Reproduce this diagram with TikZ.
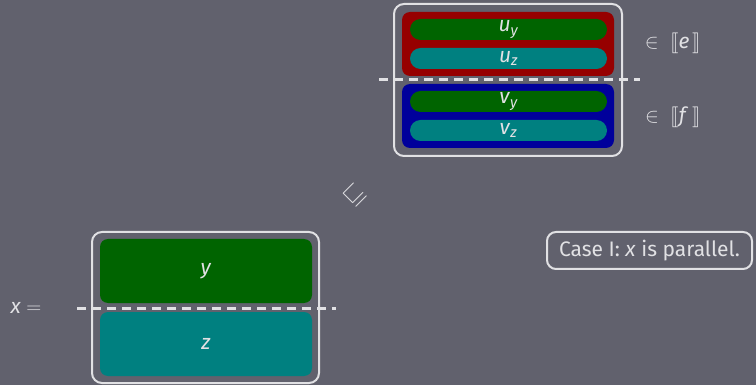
\documentclass[tikz,border=0pt]{standalone}
\usepackage{amsmath,amssymb,stmaryrd}
\usepackage{fontspec}
\setmainfont{Fira Sans}
\usetikzlibrary{backgrounds}
\definecolor{slide bg}{RGB}{97,97,109}
\definecolor{pale}{RGB}{225,225,228}
\definecolor{part green}{RGB}{0,100,0}
\definecolor{part teal}{RGB}{0,128,128}
\definecolor{part red}{RGB}{150,0,0}
\definecolor{part blue}{RGB}{0,0,155}
\tikzset{
  frame box/.style={
    draw=pale,
    line width=2pt,
    rounded corners=10pt,
    inner sep=0pt,
  },
  half box/.style={
    rounded corners=8pt,
    inner sep=0pt,
    minimum width=212pt,
    minimum height=64pt,
    text=pale,
  },
  pill/.style={
    rounded corners=10.5pt,
    inner sep=0pt,
    minimum width=197pt,
    minimum height=21pt,
    text=pale,
  },
  cut line/.style={
    draw=pale,
    line width=3pt,
    dash pattern=on 9pt off 6pt,
  },
  big text/.style={
    text=pale,
    font=\fontsize{21}{25}\selectfont,
  },
}

\begin{document}
\begin{tikzpicture}[x=1pt, y=-1pt, big text]
        \useasboundingbox[fill=slide bg] (0,0) rectangle (756,385);

        % the split value on the top right
        \node[frame box, minimum width=228pt, minimum height=152pt] (top) at (508,80) {};
        \node[half box, fill=part red]  (u) at (508, 44) {};
        \node[half box, fill=part blue] (v) at (508,116) {};
        \node[pill, fill=part green] (uy) at (508.5, 29.5) {\textit{u}$_{\textit{y}}$};
        \node[pill, fill=part teal]  (uz) at (508.5, 58.5) {\textit{u}$_{\textit{z}}$};
        \node[pill, fill=part green] (vy) at (508.5,101.5) {\textit{v}$_{\textit{y}}$};
        \node[pill, fill=part teal]  (vz) at (508.5,130.5) {\textit{v}$_{\textit{z}}$};
        \coordinate (top cut left)  at (379,80);
        \coordinate (top cut right) at (640,80);
        \draw[cut line] (top cut left) -- (top cut right);

        \node (in e) at (673, 43) {$\in \; \llbracket \textit{e}\, \rrbracket$};
        \node (in f) at (673,117) {$\in \; \llbracket \textit{f}\,\, \rrbracket$};

        % order between the two
        \node[rotate=45, font=\fontsize{24}{26}\selectfont] (order) at (355,195) {$\sqsubseteq$};

        % the value x on the bottom left
        \node (x eq) at (26,308) {\textit{x} $=$};
        \node[frame box, minimum width=227pt, minimum height=151pt] (bottom) at (205.5,307.5) {};
        \node[half box, fill=part green] (y) at (206,271) {\textit{y}};
        \node[half box, fill=part teal]  (z) at (206,344) {\textit{z}};
        \coordinate (cut left)  at (77,308);
        \coordinate (cut right) at (336,308);
        \draw[cut line] (cut left) -- (cut right);

        \node[frame box, rounded corners=9pt, minimum width=205pt, minimum height=37pt] (case) at (649.5,250.5) {Case I: \textit{x} is parallel.};
      \end{tikzpicture}
\end{document}
